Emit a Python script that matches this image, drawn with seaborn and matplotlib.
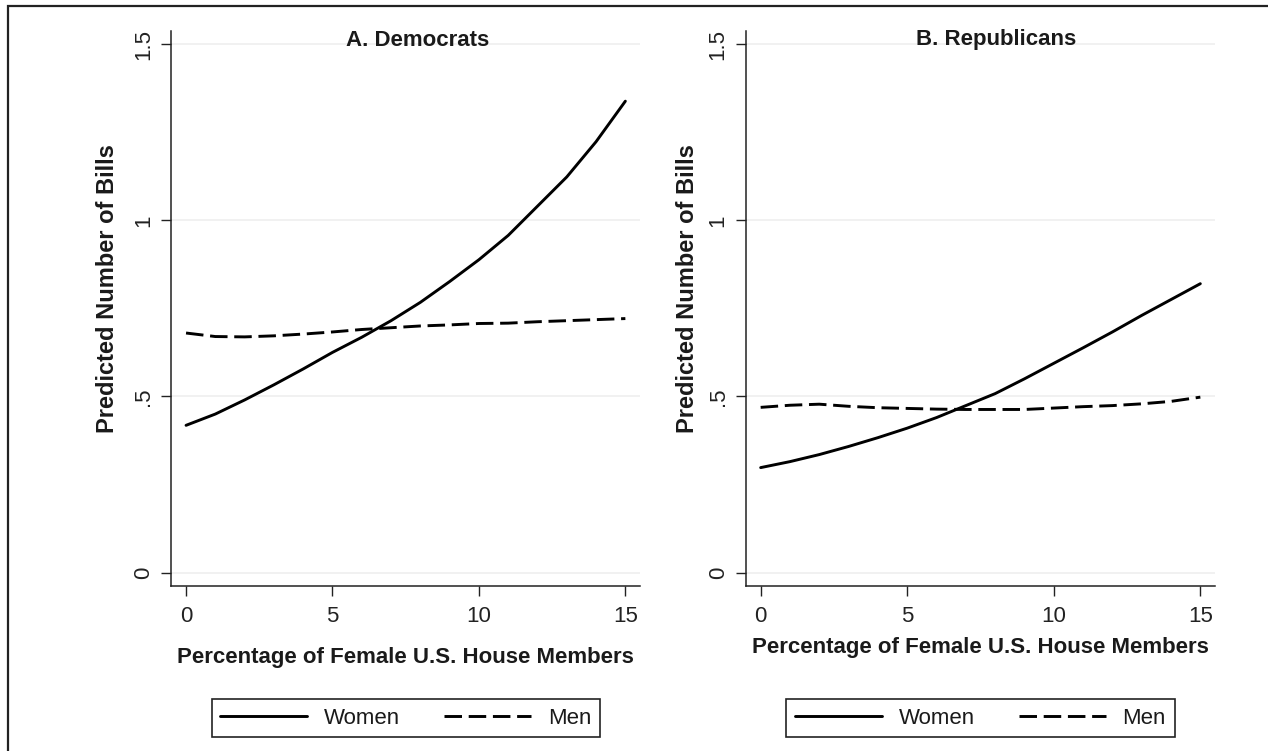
import numpy as np
import pandas as pd
import matplotlib
matplotlib.use('Agg')
import matplotlib.pyplot as plt
from matplotlib.lines import Line2D
from matplotlib.patches import Rectangle
import seaborn as sns

# ---------------------------------------------------------------------------
# Data (predicted number of bills)
# ---------------------------------------------------------------------------
pct_female = [0, 1, 2, 3, 4, 5, 6, 7, 8, 9, 10, 11, 12, 13, 14, 15]

dem_women = [0.418, 0.450, 0.490, 0.533, 0.578, 0.625, 0.668, 0.715,
             0.767, 0.826, 0.888, 0.957, 1.040, 1.123, 1.223, 1.338]
dem_men = [0.680, 0.670, 0.669, 0.672, 0.677, 0.683, 0.690, 0.695,
           0.700, 0.703, 0.707, 0.708, 0.712, 0.715, 0.718, 0.721]

rep_women = [0.298, 0.315, 0.335, 0.358, 0.383, 0.410, 0.440, 0.474,
             0.508, 0.550, 0.594, 0.638, 0.683, 0.730, 0.775, 0.820]
rep_men = [0.469, 0.475, 0.478, 0.472, 0.468, 0.466, 0.464, 0.463,
           0.463, 0.463, 0.467, 0.471, 0.474, 0.479, 0.486, 0.498]

panel_titles = ['A. Democrats', 'B. Republicans']
y_ticks = [0, 0.5, 1, 1.5]
y_tick_labels = ['0', '.5', '1', '1.5']
x_ticks = [0, 5, 10, 15]
x_label = 'Percentage of Female U.S. House Members'
y_label = 'Predicted Number of Bills'

# ---------------------------------------------------------------------------
# Style
# ---------------------------------------------------------------------------
sns.set_theme(style='white')
plt.rcParams['font.family'] = ['Liberation Sans', 'DejaVu Sans']
plt.rcParams['axes.linewidth'] = 1.1
plt.rcParams['axes.edgecolor'] = '#222222'
plt.rcParams['xtick.color'] = '#222222'
plt.rcParams['ytick.color'] = '#222222'
plt.rcParams['text.color'] = '#1a1a1a'

W, H = 1268, 751
fig = plt.figure(figsize=(W / 100, H / 100), dpi=100)

MEN_DASH = (6.0, 2.3)
LW = 2.1

# axes placement in pixels: (left, right)
panels = [
    (171.4, 640.0, dem_women, dem_men),
    (746.0, 1215.0, rep_women, rep_men),
]
top_px, bottom_px = 30.7, 586.0

for i, (x0, x1, women, men) in enumerate(panels):
    ax = fig.add_axes([x0 / W, 1 - bottom_px / H, (x1 - x0) / W,
                       (bottom_px - top_px) / H])
    df = pd.DataFrame({
        'pct': pct_female * 2,
        'bills': women + men,
        'sex': ['Women'] * len(women) + ['Men'] * len(men),
    })
    sns.lineplot(data=df, x='pct', y='bills', style='sex',
                 dashes={'Women': '', 'Men': MEN_DASH},
                 color='black', linewidth=LW, ax=ax, legend=False)

    ax.set_xlim(-0.5, 15.5)
    ax.set_ylim(-0.038, 1.538)
    ax.set_xticks(x_ticks)
    ax.set_xticklabels([str(t) for t in x_ticks], fontsize=16)
    ax.set_yticks(y_ticks)
    ax.set_yticklabels(y_tick_labels, fontsize=16, rotation=90, va='center')
    ax.tick_params(axis='x', direction='out', length=7.5, width=1.0, pad=7,
                   bottom=True)
    ax.tick_params(axis='y', direction='out', length=7.5, width=1.0, pad=5,
                   left=True)
    for gy in y_ticks:
        ax.axhline(gy, color='#efefef', linewidth=1.2, zorder=0)
    sns.despine(ax=ax)
    ax.set_xlabel('')
    ax.set_ylabel('')

# titles, axis labels, legends
title_x = [418, 996]
xlabel_y = [657, 648]
ylabel_x = [108, 687]
for i in range(2):
    fig.text(title_x[i] / W, 1 - 40 / H, panel_titles[i], fontsize=16,
             fontweight='bold', ha='center', va='center')
    cx = (panels[i][0] + panels[i][1]) / 2
    fig.text(cx / W, 1 - xlabel_y[i] / H, x_label, fontsize=16,
             fontweight='bold', ha='center', va='center')
    fig.text(ylabel_x[i] / W, 1 - 289 / H, y_label, fontsize=17,
             fontweight='bold', ha='center', va='center', rotation=90)

    handles = [Line2D([], [], color='black', linewidth=LW),
               Line2D([], [], color='black', linewidth=LW, dashes=MEN_DASH)]
    leg = fig.legend(handles, ['Women', 'Men'], ncol=2, loc='center',
                     bbox_to_anchor=(cx / W, 1 - 718 / H), fontsize=16,
                     frameon=True, fancybox=False, framealpha=1,
                     edgecolor='#222222', handlelength=3.9,
                     handletextpad=0.75, columnspacing=2.0, borderpad=0.4)
    leg.get_frame().set_linewidth(1.2)

# outer frame (only top and left edges visible in the crop)
fig.patches.append(Rectangle((8 / W, -0.1), 1.2, 1.1 - 6 / H, fill=False,
                             edgecolor='#222222', linewidth=1.6,
                             transform=fig.transFigure, figure=fig))

fig.savefig('out.png', dpi=100)
